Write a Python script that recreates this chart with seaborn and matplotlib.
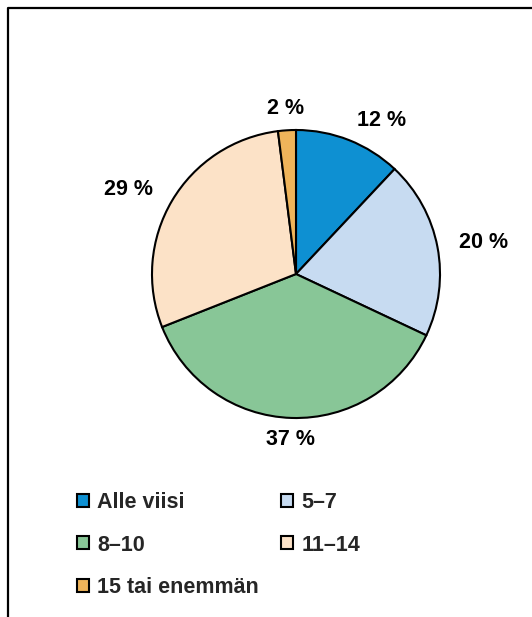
import matplotlib
matplotlib.use("Agg")
import matplotlib.pyplot as plt
from matplotlib.lines import Line2D
import seaborn as sns

categories = ["Alle viisi", "5–7", "8–10", "11–14", "15 tai enemmän"]
shares = [12, 20, 37, 29, 2]
pct_labels = ["12 %", "20 %", "37 %", "29 %", "2 %"]
colors = ["#0e90d2", "#c7dbf1", "#88c697", "#fce2c7", "#efb45a"]

sns.set_style("white")
plt.rcParams["font.family"] = ["Liberation Sans", "DejaVu Sans"]
plt.rcParams["font.weight"] = "bold"

fig = plt.figure(figsize=(5.32, 6.17), dpi=100)
ax = fig.add_axes([0.2857, 0.3225, 0.5414, 0.4668])

wedges, texts = ax.pie(
    shares, labels=pct_labels, colors=colors, startangle=90, counterclock=False,
    labeldistance=1.15,
    wedgeprops=dict(edgecolor="black", linewidth=1.5),
    textprops=dict(fontsize=15.5, fontweight="bold", color="black"),
)
# labels near top/bottom are centred like the original
for t in texts:
    if abs(t.get_position()[0]) < 0.15:
        t.set_ha("center")
ax.set_xlim(-1, 1)
ax.set_ylim(-1, 1)
ax.set_aspect("equal")

# legend in row-major order (matplotlib fills columns first)
order = [0, 2, 4, 1, 3]
fig.legend(
    [wedges[i] for i in order], [categories[i] for i in order],
    ncol=2, loc="upper left", bbox_to_anchor=(77 / 532, 1 - 492 / 617),
    frameon=False, borderpad=0, borderaxespad=0,
    handlelength=0.55, handleheight=0.55, handletextpad=0.4,
    labelspacing=1.0, columnspacing=1.0,
    prop=dict(size=15.5, weight="bold"),
)

# open frame: top and left edges only
fig.add_artist(Line2D([8 / 532, 8 / 532, 1], [0, 1 - 8 / 617, 1 - 8 / 617],
                      transform=fig.transFigure, color="black", linewidth=1.6))

fig.savefig("out.png", dpi=100, facecolor="white")
